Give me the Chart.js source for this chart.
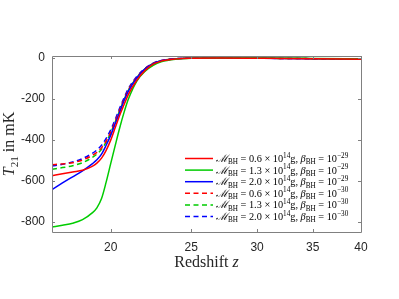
<!DOCTYPE html>
<html>
<head>
<meta charset="utf-8">
<script src="https://cdn.jsdelivr.net/npm/chart.js@4.4.1/dist/chart.umd.min.js"></script>
<style>
  html, body { margin: 0; padding: 0; background: #fff; }
  #wrap { width: 399px; height: 299px; position: relative; }
</style>
</head>
<body>
<div id="wrap"><canvas id="myChart"></canvas></div>
<script>
// redshift grid (shared by all curves)
const redshift = [17, 17.5, 18, 18.5, 19, 19.25, 19.5, 19.75, 20, 20.25, 20.5, 20.75, 21, 21.5, 22, 22.5, 23, 24, 25, 27, 30, 35, 40];

// T21 in mK
const redSolid    = [-574, -564, -555, -547, -528, -512, -488, -450, -400, -340, -280, -228, -178, -108, -60, -30, -15, -4, -1, 0, -1, -3, -6];
const greenSolid  = [-824, -815, -805, -788, -755, -730, -685, -605, -515, -427, -342, -266, -201, -112, -64, -35, -18, -5, -1, 0, 0, -2, -5];
const blueSolid   = [-641, -609, -579, -550, -516, -496, -468, -425, -377, -320, -265, -208, -162, -97, -53, -27, -13, -3, -1, 0, -1, -3, -6];
const redDashed   = [-520, -516, -510, -497, -475, -460, -438, -405, -362, -310, -255, -202, -156, -94, -52, -26, -13, -3, -1, 0, -1, -3, -6];
const greenDashed = [-542, -534, -525, -510, -485, -468, -445, -410, -365, -312, -257, -204, -157, -95, -52, -26, -13, -3, -1, 0, -1, -3, -6];
const blueDashed  = [-526, -518, -507, -490, -465, -448, -425, -392, -350, -300, -245, -195, -150, -90, -50, -25, -12, -3, -1, 0, -1, -3, -6];

// legend bits
const massValues = ['0.6', '1.3', '2.0', '0.6', '1.3', '2.0'];
const betaExponents = ['\u221229', '\u221229', '\u221229', '\u221230', '\u221230', '\u221230'];

// axis ticks
const xTicks = [20, 25, 30, 35, 40];
const yTicks = [-800, -600, -400, -200, 0];

const seriesValues = [redSolid, greenSolid, blueSolid, redDashed, greenDashed, blueDashed];
const colors = ['#ff0000', '#00cc00', '#0000ff', '#ff0000', '#00cc00', '#0000ff'];
const dashed = [false, false, false, true, true, true];

const datasets = seriesValues.map((vals, i) => ({
    label: 'M_BH = ' + massValues[i] + ' x 10^14 g, beta_BH = 10^' + betaExponents[i],
    data: redshift.map((z, k) => ({ x: z, y: vals[k] })),
    borderColor: colors[i],
    backgroundColor: colors[i],
    borderWidth: 1.5,
    borderDash: dashed[i] ? [5, 3.5] : [],
    pointRadius: 0,
    cubicInterpolationMode: 'monotone',
    fill: false
}));

// write a small run of text with sub/superscripts
function drawParts(ctx, x, y, parts, size) {
    let cx = x;
    parts.forEach(p => {
        let s = size, dy = 0, style = '';
        if (p.k === 'sub') { s = size * 0.7; dy = size * 0.25; }
        if (p.k === 'sup') { s = size * 0.7; dy = -size * 0.42; }
        if (p.k === 'i') style = 'italic ';
        ctx.font = style + s + 'px "Liberation Serif", "DejaVu Serif", serif';
        ctx.fillText(p.t, cx, y + dy);
        cx += ctx.measureText(p.t).width;
    });
    return cx - x;
}

function measureParts(ctx, parts, size) {
    let w = 0;
    parts.forEach(p => {
        let s = size, style = '';
        if (p.k === 'sub' || p.k === 'sup') s = size * 0.7;
        if (p.k === 'i') style = 'italic ';
        ctx.font = style + s + 'px "Liberation Serif", "DejaVu Serif", serif';
        w += ctx.measureText(p.t).width;
    });
    return w;
}

const decorPlugin = {
    id: 'decor',
    afterDraw(chart) {
        const ctx = chart.ctx;
        const a = chart.chartArea;
        const xs = chart.scales.x, ys = chart.scales.y;
        ctx.save();

        // box + inner ticks
        ctx.strokeStyle = '#808080';
        ctx.lineWidth = 1;
        ctx.beginPath();
        ctx.rect(Math.round(a.left) + 0.5, Math.round(a.top) + 0.5, Math.round(a.right - a.left), Math.round(a.bottom - a.top));
        xTicks.forEach(v => {
            const px = Math.round(xs.getPixelForValue(v)) + 0.5;
            ctx.moveTo(px, a.bottom); ctx.lineTo(px, a.bottom - 3);
            ctx.moveTo(px, a.top); ctx.lineTo(px, a.top + 3);
        });
        yTicks.forEach(v => {
            const py = Math.round(ys.getPixelForValue(v)) + 0.5;
            ctx.moveTo(a.left, py); ctx.lineTo(a.left + 3, py);
            ctx.moveTo(a.right, py); ctx.lineTo(a.right - 3, py);
        });
        ctx.stroke();

        ctx.fillStyle = '#262626';
        ctx.textBaseline = 'alphabetic';

        // x title
        const xt = [{ t: 'Redshift ' }, { t: 'z', k: 'i' }];
        const xw = measureParts(ctx, xt, 16);
        drawParts(ctx, (a.left + a.right) / 2 - xw / 2, 267, xt, 16);

        // y title
        const yt = [{ t: 'T', k: 'i' }, { t: '21', k: 'sub' }, { t: ' in mK' }];
        const yw = measureParts(ctx, yt, 16);
        ctx.save();
        ctx.translate(13.5, (a.top + a.bottom) / 2);
        ctx.rotate(-Math.PI / 2);
        drawParts(ctx, -yw / 2, 0, yt, 16);
        ctx.restore();

        // legend
        ctx.fillStyle = '#000';
        chart.data.datasets.forEach((ds, i) => {
            const yy = 158.5 + i * 11.6;
            ctx.strokeStyle = ds.borderColor;
            ctx.lineWidth = 1.5;
            ctx.setLineDash(ds.borderDash);
            ctx.beginPath();
            ctx.moveTo(185, yy); ctx.lineTo(213, yy);
            ctx.stroke();
            ctx.setLineDash([]);
            const parts = [
                { t: '\u2133', k: 'i' }, { t: 'BH', k: 'sub' },
                { t: ' = ' + massValues[i] + ' \u00d7 10' }, { t: '14', k: 'sup' },
                { t: 'g, ' }, { t: '\u03b2', k: 'i' }, { t: 'BH', k: 'sub' },
                { t: ' = 10' }, { t: betaExponents[i], k: 'sup' }
            ];
            drawParts(ctx, 216, yy + 3.4, parts, 10.3);
        });
        ctx.restore();
    }
};

const ctx = document.getElementById('myChart').getContext('2d');
const myChart = new Chart(ctx, {
    type: 'line',
    data: { datasets: datasets },
    plugins: [decorPlugin],
    options: {
        responsive: true,
        maintainAspectRatio: false,
        animation: false,
        layout: { padding: { left: 0, top: 56, right: 38, bottom: 0 } },
        plugins: {
            legend: { display: false },
            tooltip: { enabled: false }
        },
        scales: {
            x: {
                type: 'logarithmic',
                min: 17, max: 40,
                grid: { display: false, drawTicks: false },
                border: { display: false },
                afterBuildTicks: s => { s.ticks = xTicks.map(v => ({ value: v })); },
                afterFit: s => { s.height = 67; },
                ticks: {
                    autoSkip: false, maxRotation: 0, padding: 8,
                    color: '#262626',
                    font: { family: '"Liberation Sans", Arial, sans-serif', size: 12 },
                    callback: v => String(v)
                }
            },
            y: {
                min: -848, max: 10,
                grid: { display: false, drawTicks: false },
                border: { display: false },
                afterBuildTicks: s => { s.ticks = yTicks.map(v => ({ value: v })); },
                afterFit: s => { s.width = 52; },
                ticks: {
                    padding: 7,
                    color: '#262626',
                    font: { family: '"Liberation Sans", Arial, sans-serif', size: 12 },
                    callback: v => String(v)
                }
            }
        }
    }
});
</script>
</body>
</html>
